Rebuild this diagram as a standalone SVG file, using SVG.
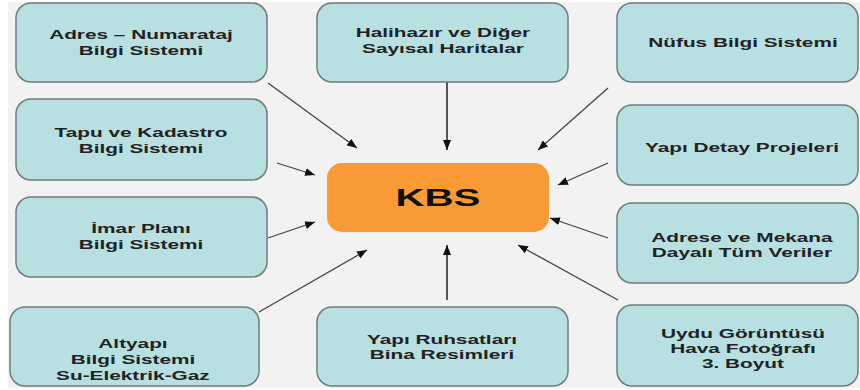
<svg xmlns="http://www.w3.org/2000/svg" width="860" height="390" viewBox="0 0 860 390">
  <defs>
    <marker id="arrow" markerUnits="userSpaceOnUse" markerWidth="10" markerHeight="8" refX="10" refY="4" orient="auto">
      <path d="M0,0 L10,4 L0,8 z" fill="#111"/>
    </marker>
    <style>
      .box { fill: #b8e0e3; stroke: #6f7c7e; stroke-width: 1.5; }
      .hub { fill: #f99a36; }
      .t { font-family: "Liberation Sans", Arial, sans-serif; font-weight: bold; font-size: 13px; fill: #222; text-anchor: middle;
           transform-box: fill-box; transform-origin: center; transform: scaleX(1.6); }
      .k { font-family: "Liberation Sans", Arial, sans-serif; font-weight: bold; font-size: 23px; fill: #111; text-anchor: middle;
           transform-box: fill-box; transform-origin: center; transform: scaleX(1.75); }
      .c { fill: none; stroke: #444; stroke-width: 1.3; marker-end: url(#arrow); }
      .v { fill: none; stroke: #555; stroke-width: 2; marker-end: url(#arrow); }
    </style>
  </defs>

  <rect x="0" y="0" width="860" height="390" fill="#ffffff"/>
  <rect x="8" y="2" width="852" height="386" fill="#f2f2f2"/>

  <!-- connectors -->
  <g id="connectors">
    <line class="c" x1="268" y1="83" x2="357" y2="148"/>
    <line class="c" x1="277" y1="163" x2="315" y2="175"/>
    <line class="c" x1="268" y1="238" x2="315" y2="222"/>
    <line class="c" x1="259" y1="312" x2="367" y2="250"/>
    <line class="v" x1="447" y1="82" x2="447" y2="150"/>
    <line class="v" x1="447" y1="300" x2="447" y2="245"/>
    <line class="c" x1="608" y1="88" x2="538" y2="150"/>
    <line class="c" x1="608" y1="163" x2="558" y2="185"/>
    <line class="c" x1="608" y1="238" x2="550" y2="218"/>
    <line class="c" x1="618" y1="300" x2="518" y2="245"/>
  </g>

  <!-- central node -->
  <g id="kbs">
    <rect class="hub" x="327" y="163" width="222" height="69" rx="15"/>
    <text class="k" x="438" y="206">KBS</text>
  </g>

  <!-- left column -->
  <g id="adres-numarataj">
    <rect class="box" x="16" y="3" width="251" height="79" rx="15"/>
    <text class="t" x="141" y="39">Adres – Numarataj</text>
    <text class="t" x="141" y="55">Bilgi Sistemi</text>
  </g>
  <g id="tapu-kadastro">
    <rect class="box" x="16" y="99" width="251" height="81" rx="15"/>
    <text class="t" x="141" y="137">Tapu ve Kadastro</text>
    <text class="t" x="141" y="153">Bilgi Sistemi</text>
  </g>
  <g id="imar-plani">
    <rect class="box" x="16" y="197" width="251" height="80" rx="15"/>
    <text class="t" x="141" y="233">İmar Planı</text>
    <text class="t" x="141" y="249">Bilgi Sistemi</text>
  </g>
  <g id="altyapi">
    <rect class="box" x="10" y="307" width="249" height="79" rx="15"/>
    <text class="t" x="133" y="348">Altyapı</text>
    <text class="t" x="133" y="364">Bilgi Sistemi</text>
    <text class="t" x="133" y="380">Su-Elektrik-Gaz</text>
  </g>

  <!-- middle column -->
  <g id="halihazir">
    <rect class="box" x="317" y="3" width="251" height="79" rx="15"/>
    <text class="t" x="443" y="37">Halihazır ve Diğer</text>
    <text class="t" x="443" y="53">Sayısal Haritalar</text>
  </g>
  <g id="yapi-ruhsatlari">
    <rect class="box" x="317" y="307" width="251" height="79" rx="15"/>
    <text class="t" x="442" y="344">Yapı Ruhsatları</text>
    <text class="t" x="442" y="359">Bina Resimleri</text>
  </g>

  <!-- right column -->
  <g id="nufus">
    <rect class="box" x="617" y="3" width="241" height="79" rx="15"/>
    <text class="t" x="743" y="47">Nüfus Bilgi Sistemi</text>
  </g>
  <g id="yapi-detay">
    <rect class="box" x="617" y="105" width="241" height="80" rx="15"/>
    <text class="t" x="742" y="152">Yapı Detay Projeleri</text>
  </g>
  <g id="adrese-mekana">
    <rect class="box" x="617" y="203" width="241" height="80" rx="15"/>
    <text class="t" x="742" y="242">Adrese ve Mekana</text>
    <text class="t" x="742" y="257">Dayalı Tüm Veriler</text>
  </g>
  <g id="uydu">
    <rect class="box" x="617" y="305" width="241" height="81" rx="15"/>
    <text class="t" x="743" y="338">Uydu Görüntüsü</text>
    <text class="t" x="743" y="353">Hava Fotoğrafı</text>
    <text class="t" x="743" y="368">3. Boyut</text>
  </g>
</svg>
